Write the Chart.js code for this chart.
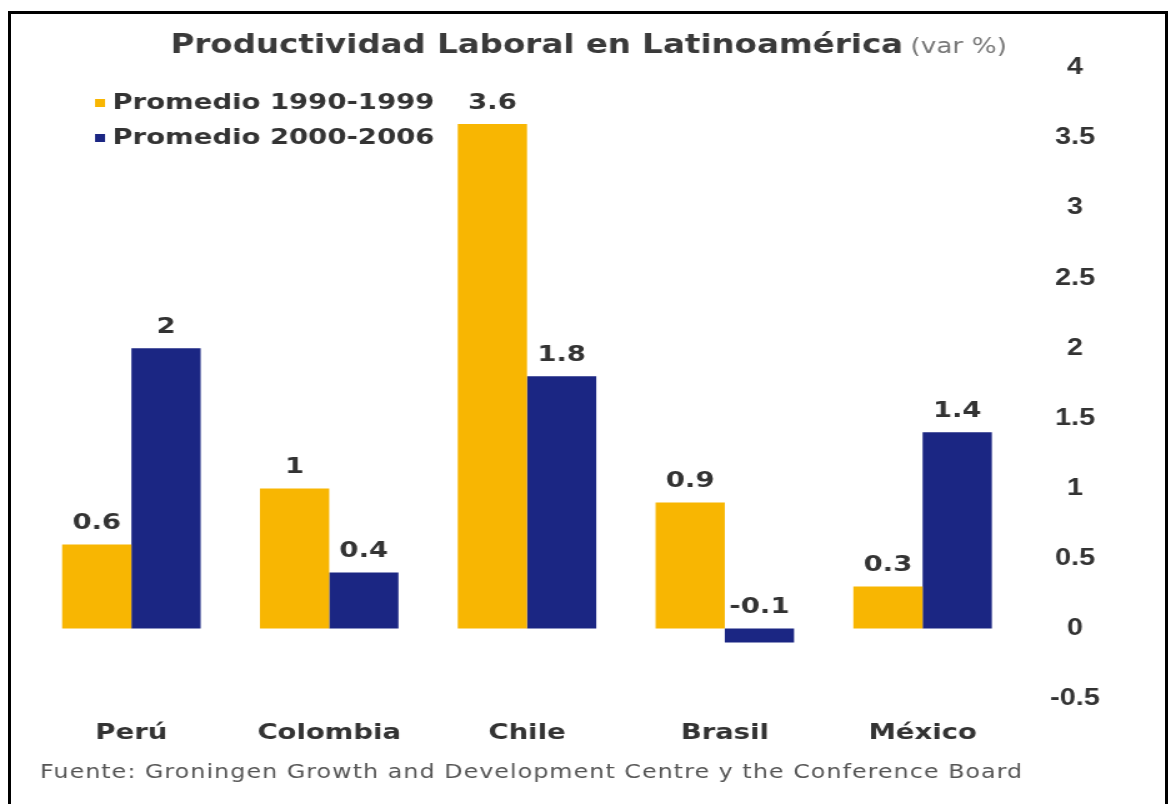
<!DOCTYPE html>
<html>
<head>
<meta charset="utf-8">
<script src="https://cdn.jsdelivr.net/npm/chart.js@4.4.1/dist/chart.umd.min.js"></script>
<style>
  html, body { margin: 0; padding: 0; background: #fff; overflow: hidden; }
  #wrap { position: relative; width: 1171px; height: 804px; }
  #myChart { position: absolute; left: 0; top: 0; }
  #frame { position: absolute; left: 8px; top: 11px; width: 1160px; height: 800px;
           border: 3px solid #000; border-bottom: none; box-sizing: border-box; pointer-events: none; }
</style>
</head>
<body>
<div id="wrap">
  <!-- drawn narrower and stretched sideways, like the wide lettering of the original -->
  <canvas id="myChart" width="937" height="804" style="width:1171px;height:804px"></canvas>
  <div id="frame"></div>
</div>
<script>
// Data
var categories = ["Perú", "Colombia", "Chile", "Brasil", "México"];
var seriesNames = ["Promedio 1990-1999", "Promedio 2000-2006"];
var promedio1990 = [0.6, 1, 3.6, 0.9, 0.3];
var promedio2000 = [2, 0.4, 1.8, -0.1, 1.4];
var yTicks = [-0.5, 0, 0.5, 1, 1.5, 2, 2.5, 3, 3.5, 4];
var chartTitle = "Productividad Laboral en Latinoamérica";
var titleUnit = "(var %)";
var sourceNote = "Fuente: Groningen Growth and Development Centre y the Conference Board";

var colors = ["#F8B602", "#1B2683"];
var FONT = "'DejaVu Sans', 'Liberation Sans', Arial, sans-serif";
var TICK_FONT = "'Liberation Sans', Arial, sans-serif";

// Title, legend and source line
var headerPlugin = {
  id: "header",
  afterDraw: function (chart) {
    var c = chart.ctx;
    c.save();
    // title, bold part + lighter unit
    c.textBaseline = "alphabetic";
    c.font = "bold 26px " + FONT;
    var w1 = c.measureText(chartTitle).width;
    c.font = "21px " + FONT;
    var w2 = c.measureText(titleUnit).width;
    var gap = 6;
    var x0 = 471 - (w1 + gap + w2) / 2;
    c.fillStyle = "#3a3a3a";
    c.font = "bold 26px " + FONT;
    c.textAlign = "left";
    c.fillText(chartTitle, x0, 53);
    c.fillStyle = "#777";
    c.font = "21px " + FONT;
    c.fillText(titleUnit, x0 + w1 + gap, 53);

    // legend
    c.font = "bold 22px " + FONT;
    c.textBaseline = "middle";
    chart.data.datasets.forEach(function (ds, i) {
      var y = 103 + i * 35;
      c.fillStyle = ds.backgroundColor;
      c.fillRect(76, y - 4, 8, 8);
      c.fillStyle = "#333";
      c.fillText(ds.label, 90, y);
    });

    // source
    c.font = "19px " + FONT;
    c.letterSpacing = "0.85px";
    c.fillStyle = "#555";
    c.fillText(sourceNote, 32, 773);
    c.restore();
  }
};

// Value labels above each bar
var valueLabels = {
  id: "valueLabels",
  afterDatasetsDraw: function (chart) {
    var c = chart.ctx;
    var zero = chart.scales.y.getPixelForValue(0);
    c.save();
    c.font = "bold 22px " + FONT;
    c.fillStyle = "#333";
    c.textAlign = "center";
    c.textBaseline = "middle";
    chart.data.datasets.forEach(function (ds, i) {
      chart.getDatasetMeta(i).data.forEach(function (bar, j) {
        var top = Math.min(bar.y, zero);
        c.fillText(String(ds.data[j]), bar.x, top - 21);
      });
    });
    c.restore();
  }
};

var ctx = document.getElementById("myChart").getContext("2d");

var myChart = new Chart(ctx, {
  type: "bar",
  data: {
    labels: categories,
    datasets: [
      { label: seriesNames[0], data: promedio1990, backgroundColor: colors[0] },
      { label: seriesNames[1], data: promedio2000, backgroundColor: colors[1] }
    ]
  },
  options: {
    responsive: false,
    animation: false,
    devicePixelRatio: 1,
    layout: { padding: { top: 68, left: 26, right: 34, bottom: 37 } },
    datasets: {
      bar: { categoryPercentage: 0.7, barPercentage: 1.0, borderWidth: 0 }
    },
    plugins: {
      legend: { display: false },
      title: { display: false },
      tooltip: { enabled: false }
    },
    scales: {
      x: {
        grid: { display: false, drawTicks: false },
        border: { display: false },
        ticks: {
          padding: 21,
          color: "#333",
          font: { family: FONT, size: 22, weight: "bold" }
        }
      },
      y: {
        position: "right",
        min: yTicks[0],
        max: yTicks[yTicks.length - 1],
        afterBuildTicks: function (axis) {
          axis.ticks = yTicks.map(function (v) { return { value: v }; });
        },
        grid: { display: false, drawTicks: false },
        border: { display: false },
        ticks: {
          padding: 23,
          crossAlign: "center",
          color: "#333",
          font: { family: TICK_FONT, size: 23, weight: "bold" },
          callback: function (value) { return String(value); }
        }
      }
    }
  },
  plugins: [headerPlugin, valueLabels]
});
</script>
</body>
</html>
